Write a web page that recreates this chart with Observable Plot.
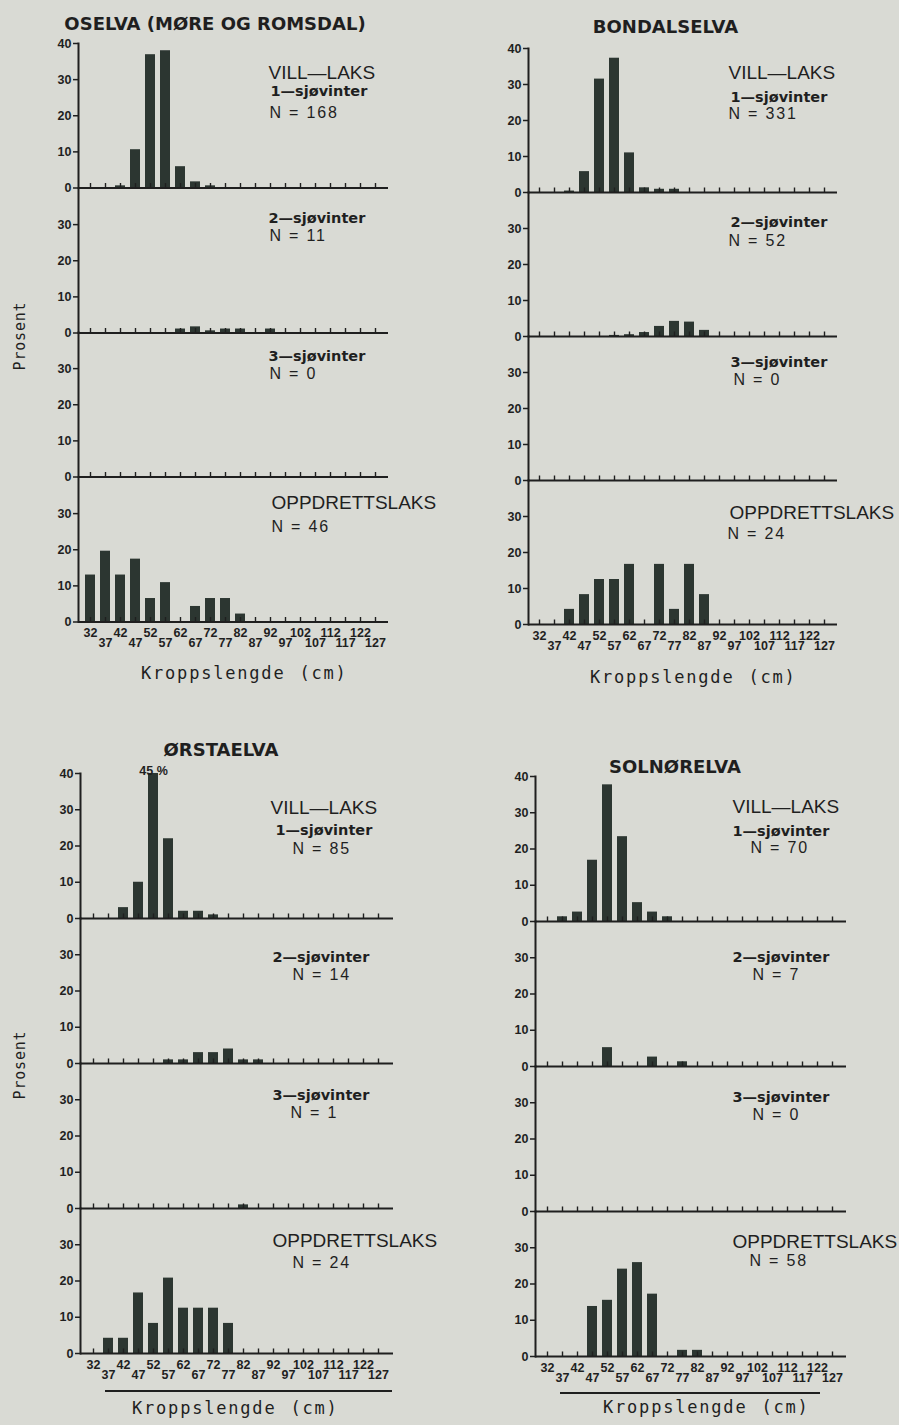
<!DOCTYPE html>
<html lang="no">
<head>
<meta charset="utf-8">
<title>Kroppslengde – vill-laks og oppdrettslaks</title>
<script src="https://cdn.jsdelivr.net/npm/d3@7"></script>
<script src="https://cdn.jsdelivr.net/npm/@observablehq/plot@0.6"></script>
<style>
html,body{margin:0;padding:0;background:#d9dad4;}
#page{position:relative;width:899px;height:1425px;overflow:hidden;background:#d9dad4;color:#1f1f1f;}
.t{position:absolute;white-space:pre;line-height:1;}
.title{font-family:"DejaVu Sans",sans-serif;font-weight:bold;font-size:18px;}
.xlab{font-family:"DejaVu Sans Mono",monospace;font-size:17px;letter-spacing:1.8px;word-spacing:2px;}
.ylab{font-family:"DejaVu Sans Mono",monospace;font-size:15px;letter-spacing:0.8px;}
.hr{position:absolute;height:1.6px;background:#1f1f1f;}
</style>
</head>
<body>
<div id="page"></div>
<script>
// ---------------- DATA ----------------
const lengthBins = ["32","37","42","47","52","57","62","67","72","77","82","87","92","97","102","107","112","117","122","127"];
const binLabelsUpper = ["32","42","52","62","72","82","92","102","112","122"];
const binLabelsLower = ["37","47","57","67","77","87","97","107","117","127"];
const yTicksTop = [0, 10, 20, 30, 40];
const yTicksLower = [0, 10, 20, 30];

const riverNames = ["OSELVA (MØRE OG ROMSDAL)", "BONDALSELVA", "ØRSTAELVA", "SOLNØRELVA"];
const groupNames = ["1—sjøvinter", "2—sjøvinter", "3—sjøvinter"];
const wildLabel = "VILL—LAKS";
const farmLabel = "OPPDRETTSLAKS";
const xTitle = "Kroppslengde (cm)";
const yTitle = "Prosent";

// percent per length bin (32 ... 127 cm)
const oselva1SW   = [0,0,0.6,10.6,36.9,38.0,5.9,1.7,0.6,0,0,0,0,0,0,0,0,0,0,0];
const oselva2SW   = [0,0,0,0,0,0,1.1,1.7,0.6,1.1,1.1,0,1.1,0,0,0,0,0,0,0];
const oselva3SW   = [0,0,0,0,0,0,0,0,0,0,0,0,0,0,0,0,0,0,0,0];
const oselvaFarm  = [13.0,19.6,13.0,17.4,6.5,10.9,0,4.3,6.5,6.5,2.2,0,0,0,0,0,0,0,0,0];
const oselvaN     = [168, 11, 0, 46];

const bondal1SW   = [0,0,0.4,5.8,31.5,37.3,11.0,1.3,0.9,0.9,0,0,0,0,0,0,0,0,0,0];
const bondal2SW   = [0,0,0,0,0,0.3,0.5,1.1,2.8,4.2,4.0,1.7,0,0,0,0,0,0,0,0];
const bondal3SW   = [0,0,0,0,0,0,0,0,0,0,0,0,0,0,0,0,0,0,0,0];
const bondalFarm  = [0,0,4.2,8.3,12.5,12.5,16.7,0,16.7,4.2,16.7,8.3,0,0,0,0,0,0,0,0];
const bondalN     = [331, 52, 0, 24];

const orsta1SW    = [0,0,3,10,45,22,2,2,1,0,0,0,0,0,0,0,0,0,0,0];
const orsta2SW    = [0,0,0,0,0,1,1,3,3,4,1,1,0,0,0,0,0,0,0,0];
const orsta3SW    = [0,0,0,0,0,0,0,0,0,0,1,0,0,0,0,0,0,0,0,0];
const orstaFarm   = [0,4.2,4.2,16.7,8.3,20.8,12.5,12.5,12.5,8.3,0,0,0,0,0,0,0,0,0,0];
const orstaN      = [85, 14, 1, 24];

const solnor1SW   = [0,1.3,2.6,16.9,37.7,23.4,5.2,2.6,1.3,0,0,0,0,0,0,0,0,0,0,0];
const solnor2SW   = [0,0,0,0,5.2,0,0,2.6,0,1.3,0,0,0,0,0,0,0,0,0,0];
const solnor3SW   = [0,0,0,0,0,0,0,0,0,0,0,0,0,0,0,0,0,0,0,0];
const solnorFarm  = [0,0,0,13.8,15.5,24.1,25.9,17.2,0,1.7,1.7,0,0,0,0,0,0,0,0,0];
const solnorN     = [70, 7, 0, 58];

// ---------------- LAYOUT / STYLE ----------------
const BAR = "#2c3631", INK = "#1f1f1f";
const page = document.getElementById("page");

const panels = [
  {name: riverNames[0], series: [oselva1SW, oselva2SW, oselva3SW, oselvaFarm], n: oselvaN,
   ax: 78, end: 388, top: 43, sub: 144.5,
   title: {x: 215, b: 30}, xt: {x: 141, b: 679}, yt: {x: 20, y: 336}, hr: null,
   head: [{dx:190, dy:35}, null, null, {dx:193, dy:31}],
   grp: [{dx:192, dy:52}, {dx:190, dy:34}, {dx:190, dy:28}],
   nl: [{dx:191, dy:74}, {dx:191, dy:52}, {dx:191, dy:46}, {dx:193, dy:54}]},
  {name: riverNames[1], series: [bondal1SW, bondal2SW, bondal3SW, bondalFarm], n: bondalN,
   ax: 528, end: 837, top: 48, sub: 144,
   title: {x: 665.5, b: 33}, xt: {x: 590, b: 683}, yt: null, hr: null,
   head: [{dx:200, dy:30}, null, null, {dx:201, dy:38}],
   grp: [{dx:202, dy:53}, {dx:202, dy:34}, {dx:202, dy:30}],
   nl: [{dx:200, dy:70}, {dx:200, dy:53}, {dx:205, dy:48}, {dx:199, dy:58}]},
  {name: riverNames[2], series: [orsta1SW, orsta2SW, orsta3SW, orstaFarm], n: orstaN,
   ax: 80, end: 393, top: 773, sub: 145,
   title: {x: 221, b: 756}, xt: {x: 132, b: 1414}, yt: {x: 20, y: 1065}, hr: {x1: 105, x2: 392, y: 1390},
   head: [{dx:190, dy:40}, null, null, {dx:192, dy:38}],
   grp: [{dx:195, dy:61}, {dx:192, dy:43}, {dx:192, dy:36}],
   nl: [{dx:212, dy:80}, {dx:212, dy:61}, {dx:210, dy:54}, {dx:212, dy:59}],
   overflow: [{bin: "52", value: 45}]},
  {name: riverNames[3], series: [solnor1SW, solnor2SW, solnor3SW, solnorFarm], n: solnorN,
   ax: 535, end: 846, top: 776, sub: 145,
   title: {x: 675, b: 773}, xt: {x: 603, b: 1413}, yt: null, hr: {x1: 560, x2: 820, y: 1392},
   head: [{dx:197, dy:36}, null, null, {dx:197, dy:36}],
   grp: [{dx:197, dy:59}, {dx:197, dy:40}, {dx:197, dy:35}],
   nl: [{dx:215, dy:76}, {dx:217, dy:58}, {dx:217, dy:53}, {dx:214, dy:54}]}
];

function htmlText(cls, str, x, baseline, fs, center) {
  const el = document.createElement("div");
  el.className = "t " + cls;
  el.textContent = str;
  el.style.left = x + "px";
  el.style.top = (baseline - 0.846 * fs) + "px";
  if (center) el.style.transform = "translateX(-50%)";
  page.appendChild(el);
}

function label(str, pos, kind) {
  const styles = {
    head: {fontSize: 19, fontWeight: "normal", fontFamily: "Liberation Sans"},
    grp:  {fontSize: 14.5, fontWeight: "bold", fontFamily: "DejaVu Sans"},
    n:    {fontSize: 16, fontWeight: "normal", fontFamily: "Liberation Sans"}
  }[kind];
  return Plot.text([str], {text: d => d, frameAnchor: "top-left", dx: pos.dx, dy: pos.dy,
    lineAnchor: "bottom", textAnchor: "start", fill: INK, ...styles});
}

function buildSub(panel, k) {
  const values = panel.series[k];
  const isTop = k === 0, isBottom = k === 3;
  const mt = isTop ? 10 : 0, mb = isBottom ? 34 : 0, ml = 40, mr = 66;
  const w = ml + (panel.end - panel.ax) + mr;
  const h = mt + panel.sub + mb;
  const data = lengthBins.map((bin, i) => ({bin, value: values[i]})).filter(d => d.value > 0);
  const marks = [
    Plot.barY(data, {x: "bin", y: "value", fill: BAR}),
    Plot.ruleX(lengthBins, {x: d => d, y1: 0, y2: 1.25, stroke: INK, strokeWidth: 1.4}),
    Plot.ruleY([0], {stroke: INK, strokeWidth: 2}),
    Plot.frame({anchor: "left", stroke: INK, strokeWidth: 2}),
    Plot.axisY({ticks: isTop ? yTicksTop : yTicksLower, tickSize: 5, tickPadding: 2, label: null,
      fontSize: 12.5, fontWeight: "bold", strokeWidth: 1.5})
  ];
  if (isTop || isBottom) marks.push(label(isTop ? wildLabel : farmLabel, panel.head[k], "head"));
  if (k < 3) marks.push(label(groupNames[k], panel.grp[k], "grp"));
  marks.push(label(`N = ${panel.n[k]}`, panel.nl[k], "n"));
  if (isTop && panel.overflow) {
    marks.push(Plot.text(panel.overflow, {x: "bin", y: "value", text: d => `${d.value} %`, dy: 1,
      lineAnchor: "bottom", fontSize: 12.5, fontWeight: "bold", fill: INK}));
  }
  if (isBottom) {
    marks.push(Plot.text(binLabelsUpper, {x: d => d, text: d => d, frameAnchor: "bottom", dy: 15,
      lineAnchor: "bottom", fontSize: 12.5, fontWeight: "bold", fill: INK}));
    marks.push(Plot.text(binLabelsLower, {x: d => d, text: d => d, frameAnchor: "bottom", dy: 25,
      lineAnchor: "bottom", fontSize: 12.5, fontWeight: "bold", fill: INK}));
  }
  const svg = Plot.plot({
    width: w, height: h, marginLeft: ml, marginRight: mr, marginTop: mt, marginBottom: mb,
    x: {type: "band", domain: lengthBins, paddingInner: 0.34, paddingOuter: 0.17, insetLeft: 3, insetRight: 4.5, axis: null},
    y: {domain: [0, 40], clamp: true},
    style: {background: "transparent", color: INK, fontFamily: "Liberation Sans", overflow: "visible"},
    marks
  });
  d3.select(svg).selectAll("text").filter(function() { return /^N = /.test(this.textContent); })
    .style("letter-spacing", "1.8px");
  svg.style.position = "absolute";
  svg.style.left = (panel.ax - ml) + "px";
  svg.style.top = (panel.top + k * panel.sub - mt) + "px";
  page.appendChild(svg);
}

for (const p of panels) {
  for (let k = 0; k < 4; k++) buildSub(p, k);
  htmlText("title", p.name, p.title.x, p.title.b, 18, true);
  htmlText("xlab", xTitle, p.xt.x, p.xt.b, 17, false);
  if (p.yt) {
    const el = document.createElement("div");
    el.className = "t ylab";
    el.textContent = yTitle;
    el.style.left = p.yt.x + "px";
    el.style.top = p.yt.y + "px";
    el.style.transform = "translate(-50%,-50%) rotate(-90deg)";
    page.appendChild(el);
  }
  if (p.hr) {
    const hr = document.createElement("div");
    hr.className = "hr";
    hr.style.left = p.hr.x1 + "px";
    hr.style.width = (p.hr.x2 - p.hr.x1) + "px";
    hr.style.top = p.hr.y + "px";
    page.appendChild(hr);
  }
}
</script>
</body>
</html>
